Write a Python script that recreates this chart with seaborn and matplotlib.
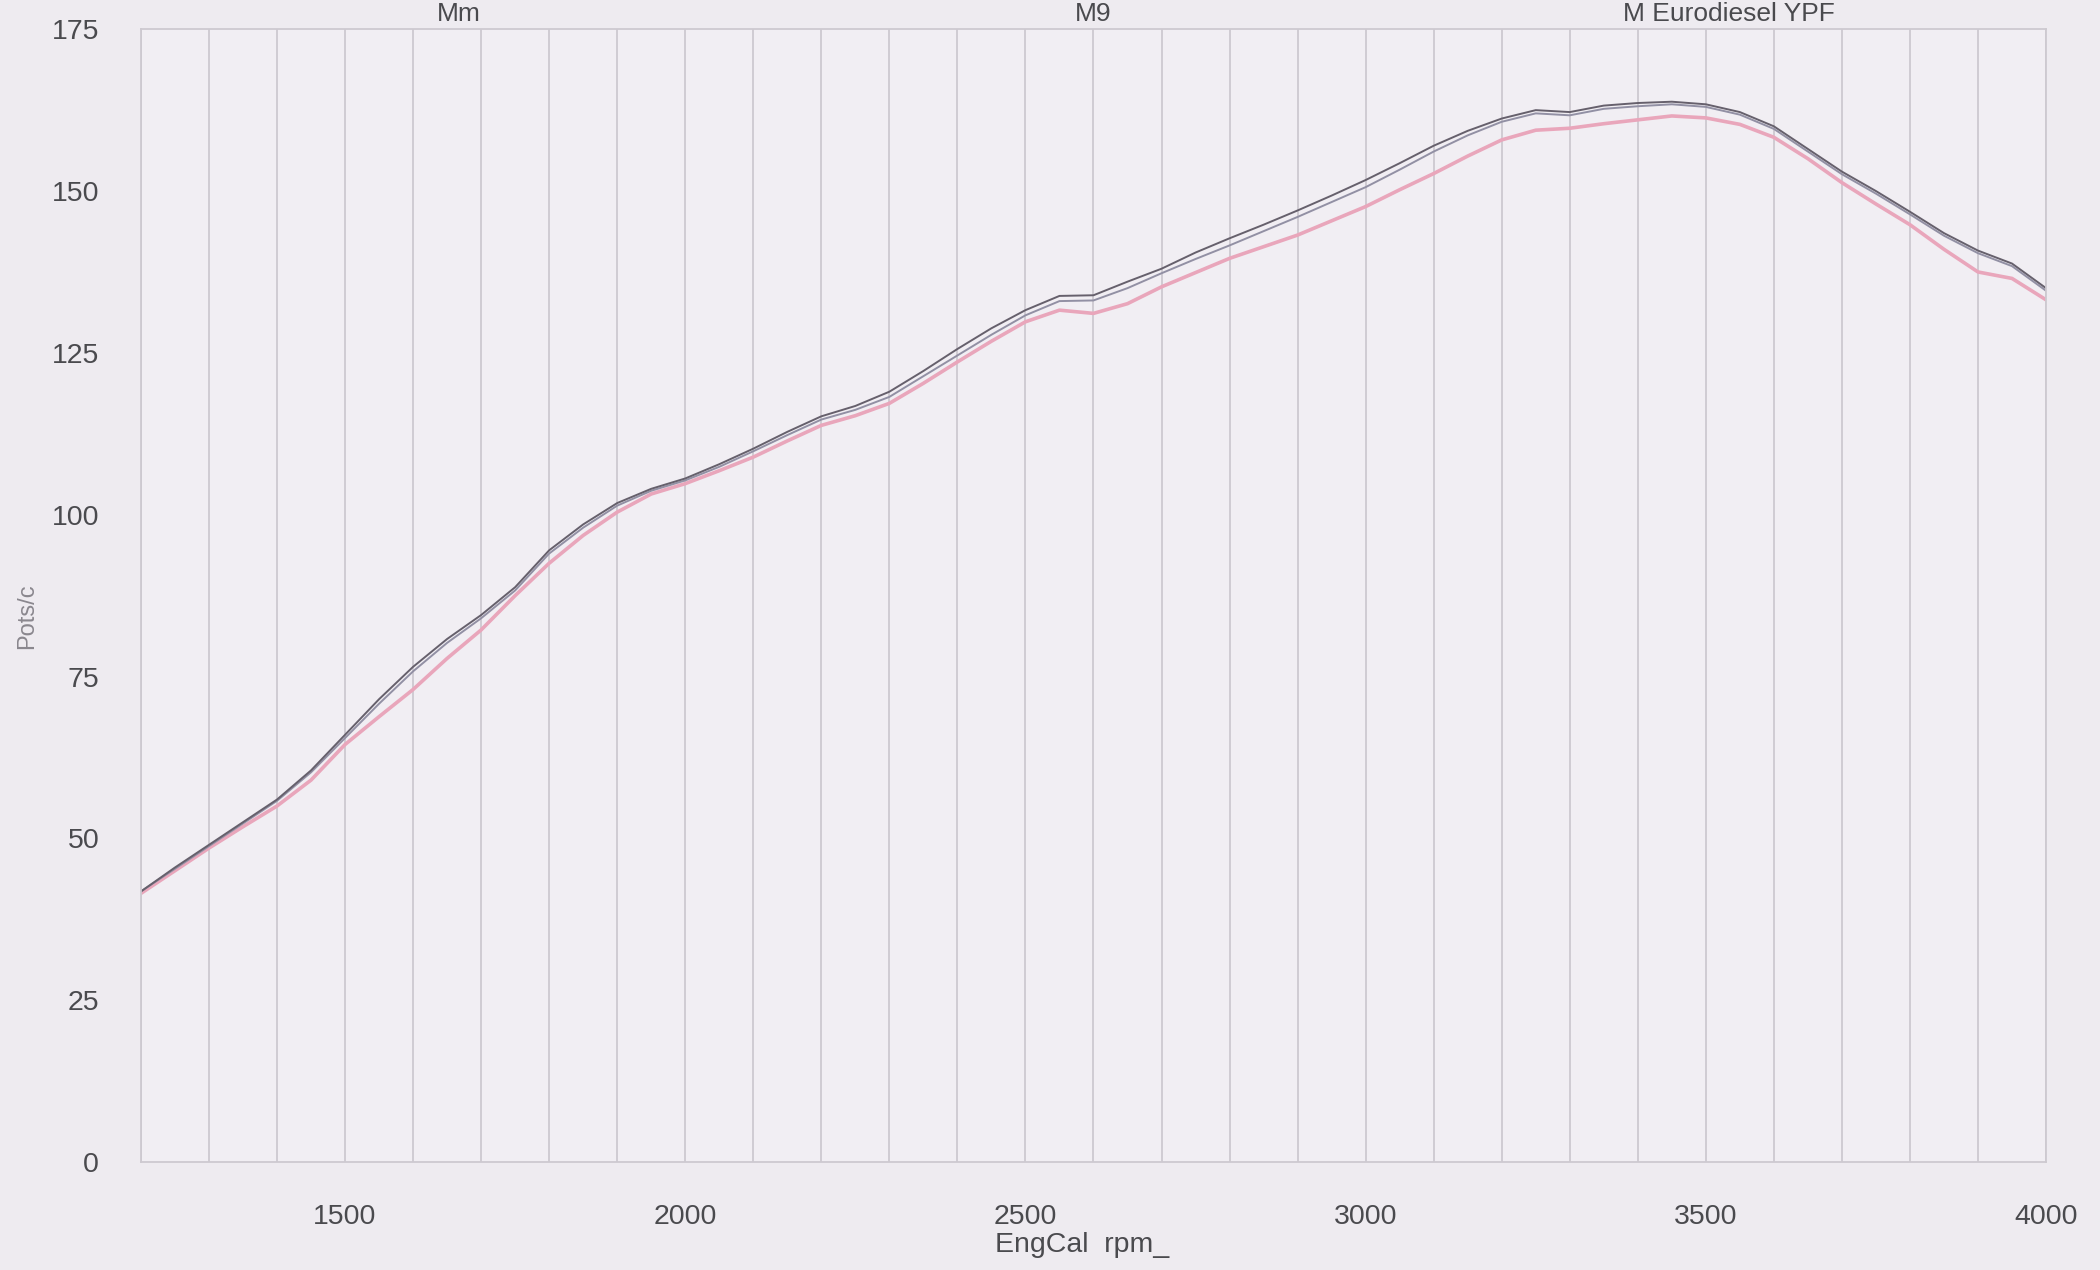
import numpy as np
import pandas as pd
import matplotlib
matplotlib.use("Agg")
import matplotlib.pyplot as plt
from matplotlib.ticker import MultipleLocator
import seaborn as sns

RPM = [1200, 1250, 1300, 1350, 1400, 1450, 1500, 1550, 1600, 1650, 1700, 1750,
       1800, 1850, 1900, 1950, 2000, 2050, 2100, 2150, 2200, 2250, 2300, 2350,
       2400, 2450, 2500, 2550, 2600, 2650, 2700, 2750, 2800, 2850, 2900, 2950,
       3000, 3050, 3100, 3150, 3200, 3250, 3300, 3350, 3400, 3450, 3500, 3550,
       3600, 3650, 3700, 3750, 3800, 3850, 3900, 3950, 4000]

POT_MM = [41.8, 45.5, 49.0, 52.5, 56.0, 60.5, 66.0, 71.5, 76.5, 80.8, 84.5, 88.8,
          94.5, 98.5, 101.8, 104.0, 105.6, 107.8, 110.2, 112.8, 115.2, 116.8, 119.0, 122.2,
          125.6, 128.8, 131.6, 133.8, 133.9, 136.0, 138.0, 140.5, 142.7, 144.8, 147.0, 149.3,
          151.7, 154.3, 157.0, 159.3, 161.2, 162.5, 162.2, 163.2, 163.6, 163.8, 163.4, 162.2,
          160.0, 156.5, 153.0, 150.0, 146.8, 143.5, 140.8, 138.8, 135.0]

POT_M9 = [41.8, 45.3, 48.8, 52.3, 55.8, 60.2, 65.5, 70.8, 75.8, 80.2, 84.0, 88.3,
          94.0, 98.0, 101.4, 103.7, 105.3, 107.4, 109.8, 112.3, 114.7, 116.2, 118.2, 121.4,
          124.6, 127.8, 130.8, 133.0, 133.1, 135.0, 137.3, 139.5, 141.6, 143.8, 146.0, 148.3,
          150.6, 153.3, 156.1, 158.6, 160.7, 162.0, 161.7, 162.7, 163.1, 163.4, 163.0, 161.8,
          159.6, 156.1, 152.6, 149.6, 146.4, 143.1, 140.4, 138.4, 134.6]

POT_YPF = [41.5, 45.0, 48.5, 51.8, 55.0, 59.0, 64.5, 68.8, 73.0, 77.8, 82.2, 87.5,
           92.5, 96.8, 100.4, 103.2, 104.8, 106.8, 108.9, 111.4, 113.8, 115.3, 117.2, 120.3,
           123.6, 126.8, 129.8, 131.6, 131.1, 132.6, 135.2, 137.4, 139.6, 141.4, 143.2, 145.4,
           147.6, 150.2, 152.7, 155.4, 157.9, 159.4, 159.7, 160.4, 161.0, 161.6, 161.3, 160.3,
           158.3, 155.0, 151.3, 148.0, 144.8, 141.0, 137.5, 136.5, 133.2]

RUNS = ["Mm", "M9", "M Eurodiesel YPF"]
COLORS = {"Mm": "#66606c", "M9": "#9290a4", "M Eurodiesel YPF": "#e9a6bb"}
WIDTHS = {"Mm": 1.4, "M9": 1.4, "M Eurodiesel YPF": 2.6}

PAPER = "#eeebf0"
GRID = "#cdc9d0"
TXT = "#4a4a4e"

sns.set_theme(style="white")
plt.rcParams["font.family"] = ["Liberation Sans", "DejaVu Sans"]

df = pd.DataFrame({"rpm": RPM, "Mm": POT_MM, "M9": POT_M9, "M Eurodiesel YPF": POT_YPF})
long = df.melt(id_vars="rpm", var_name="run", value_name="pot")

fig = plt.figure(figsize=(21, 12.7), dpi=100, facecolor=PAPER)
ax = fig.add_axes([0.0671, 0.085, 0.9072, 0.892])
ax.set_facecolor("#f1eef3")

for run in ["M Eurodiesel YPF", "M9", "Mm"]:
    sns.lineplot(data=long[long["run"] == run], x="rpm", y="pot", ax=ax,
                 color=COLORS[run], lw=WIDTHS[run], legend=False)

ax.set_xlim(1200, 4000)
ax.set_ylim(0, 175)
ax.xaxis.set_major_locator(MultipleLocator(500))
ax.xaxis.set_minor_locator(MultipleLocator(100))
ax.yaxis.set_major_locator(MultipleLocator(25))
ax.grid(axis="x", which="both", color=GRID, lw=1.3)
ax.grid(axis="y", visible=False)

ax.tick_params(axis="x", which="major", length=20, width=1.3, color=GRID,
               pad=10, labelsize=20.5, labelcolor=TXT)
ax.tick_params(axis="x", which="minor", length=0)
ax.tick_params(axis="y", length=0, pad=30, labelsize=20.5, labelcolor=TXT)
for s in ax.spines.values():
    s.set_color(GRID)
    s.set_linewidth(1.3)

ax.set_xlabel("EngCal  rpm_", fontsize=20.5, color=TXT)
ax.xaxis.set_label_coords(0.494, -0.062)
ax.set_ylabel("Pots/c", fontsize=17, color="#8a878e")
ax.yaxis.set_label_coords(-0.054, 0.482)

for i, run in enumerate(RUNS):
    ax.text((2 * i + 1) / 6, 1.024, run, transform=ax.transAxes,
            ha="center", va="top", fontsize=19, color=TXT)

fig.savefig("out.png", dpi=100, facecolor=PAPER)
